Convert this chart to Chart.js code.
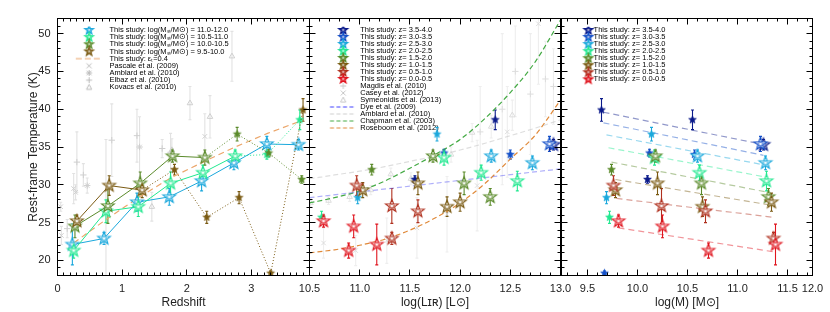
<!DOCTYPE html>
<html><head><meta charset="utf-8">
<script src="https://cdn.jsdelivr.net/npm/chart.js@4.4.1/dist/chart.umd.min.js"></script>
<style>
html,body{margin:0;padding:0;background:#fff;overflow:hidden}
#wrap{position:relative;width:830px;height:312px;background:#fff}
#wrap canvas{position:absolute;left:0;top:0}
</style></head>
<body><div id="wrap">
<canvas id="cl" width="830" height="312"></canvas>
<canvas id="cm" width="830" height="312"></canvas>
<canvas id="cr" width="830" height="312"></canvas>
</div>
<script>
const FONT = "'Liberation Sans', Arial, Helvetica, sans-serif";
Chart.defaults.font.family = FONT;
Chart.defaults.color = '#222';

// ================= DATA =================
const zBinLabels = ['0.0-0.5','0.5-1.0','1.0-1.5','1.5-2.0','2.0-2.5','2.5-3.0','3.0-3.5','3.5-4.0'];
const massBinLabels = ['11.0-12.0','10.5-11.0','10.0-10.5','9.5-10.0'];

// Left panel: T vs redshift, one series per stellar-mass bin (z bins low -> high)
const zMass1 = [0.23,0.72,1.23,1.73,2.23,2.73,3.24,3.73];
const tMass1 = [22.1,22.9,27.7,28.4,30.5,32.9,35.4,35.3];
const eMass1 = [2.7,0.8,1.2,1.1,1.3,0.9,1.0,0.7];
const fMass1 = [0,0,0,0,0,0,0,0];

const zMass2 = [0.25,0.75,1.25,1.75,2.25,2.75,3.24,3.75];
const tMass2 = [21.3,26.5,27.1,30.2,31.6,33.8,34.0,38.6];
const eMass2 = [1.0,1.5,1.3,1.5,1.0,0.8,0.6,1.3];
const fMass2 = [0,0,0,0,0,0,1,1];

const zMass3 = [0.27,0.78,1.28,1.78,2.28,2.78,3.27,3.78];
const tMass3 = [24.5,27.2,30.2,33.8,33.6,36.7,34.2,30.7];
const eMass3 = [1.5,2.3,1.5,0.8,1.0,0.9,0.5,0.5];
const fMass3 = [0,0,0,0,0,1,1,1];

const zMass4 = [0.30,0.80,1.31,1.81,2.31,2.81,3.30,3.80];
const tMass4 = [25.2,29.9,29.3,32.0,25.7,28.3,18.3,39.9];
const eMass4 = [0.8,1.3,1.0,0.7,0.8,0.8,0.3,1.5];
const fMass4 = [0,0,0,1,1,1,1,1];

// epsilon = 0.4 model curve (left)
const epsZ = [0.25,0.75,1.25,1.75,2.25,2.75,3.25,3.75];
const epsT = [22.3,25.4,28.3,30.9,33.0,35.0,36.8,38.4];

// literature (left)
const pascaleZ = [0.05,0.06,0.25,0.28,2.28];
const pascaleT = [27.1,23.3,29.5,29.0,36.4];
const pascaleE = [0.6,1.2,2.0,1.0,3.0];
const amblardZ = [0.46,1.27];
const amblardT = [29.9,35.0];
const amblardE = [1.0,4.0];
const elbazZ = [0.15,0.30,0.40,0.75,0.84,1.23,1.62,1.75];
const elbazT = [24.2,33.0,31.3,27.0,35.9,36.5,34.8,34.3];
const elbazE = [1.2,4.0,1.5,9.0,4.8,3.5,1.2,2.5];
const kovacsZ = [1.46,1.77,2.05,2.36,2.70];
const kovacsT = [27.1,34.6,40.8,39.0,47.0];
const kovacsE = [1.9,1.5,2.2,2.8,3.3];

// Middle panel: log(L_IR) of each point, per z bin (mass order 11-12, 10.5-11, 10-10.5, 9.5-10)
const lirZ0 = [11.17,10.89,10.94,10.64];
const lirZ1 = [11.32,11.58,11.32,10.97];
const lirZ2 = [12.00,11.87,11.58,11.03];
const lirZ3 = [12.30,12.04,11.73,11.12];
const lirZ4 = [12.57,12.21,11.84,10.62];
const lirZ5 = [12.72,12.31,11.77,10.98];
const lirZ6 = [12.89,12.50,11.84,null];
const lirZ7 = [12.93,12.35,11.55,null];

// Right panel: log(M) of each point, per z bin
const mstZ0 = [11.38,10.71,10.25,9.81];
const mstZ1 = [11.36,10.68,10.24,9.76];
const mstZ2 = [11.34,10.65,10.20,9.78];
const mstZ3 = [11.31,10.64,10.18,9.74];
const mstZ4 = [11.29,10.62,10.17,9.72];
const mstZ5 = [11.28,10.60,10.14,9.69];
const mstZ6 = [11.23,10.57,10.12,9.67];
const mstZ7 = [11.26,10.55,10.10,9.64];

// Right panel linear fits per z bin: [logM start, T start, logM end, T end]
const fitZ0 = [9.81,24.3,11.38,21.1];
const fitZ1 = [9.79,28.2,11.36,25.7];
const fitZ2 = [9.78,30.7,11.34,27.3];
const fitZ3 = [9.74,33.0,11.31,29.0];
const fitZ4 = [9.71,34.9,11.29,31.0];
const fitZ5 = [9.69,36.6,11.28,32.6];
const fitZ6 = [9.66,38.2,11.26,33.9];
const fitZ7 = [9.66,39.6,11.23,35.4];

// Middle panel literature
const lirGrid = [10.5,10.75,11.0,11.25,11.5,11.75,12.0,12.25,12.5,12.75,13.0];
const chapmanT = [27.6,28.3,29.2,30.5,32.2,34.0,36.0,38.8,42.2,46.3,51.8];
const roseboomT = [21.0,21.4,22.0,22.8,24.0,25.6,27.6,30.2,33.4,36.6,41.2];
const amblardLT = [30.8,31.3,31.8,32.4,33.1,33.8,34.6,35.5,36.5,37.5,38.6];
const dyeL = [10.5,13.0];
const dyeT = [28.3,32.1];
const caseyL = [10.64,10.96,11.27,11.57,11.87,12.17,12.47,12.78];
const caseyT = [22.3,21.3,22.6,24.3,26.1,29.9,37.0,51.3];
const caseyE = [2,2,3,4,5,6,6,8];
const symL = [10.51,10.69,10.90,11.11,11.31,11.51,11.91,12.12,12.31,12.52];
const symT = [27.6,27.9,28.4,29.3,31.4,30.8,34.0,36.9,37.7,39.2];
const symE = [0.5,0.5,0.6,0.6,0.8,0.8,1.0,1.2,1.5,2.0];
const magdisL = [12.20,12.42,12.55,12.70,12.85,12.93];
const magdisT = [37,40,45,42,44,43];
const magdisE = [6,10,6,8,5,5];

// tick labels
const xTicksLeft = [0,1,2,3];
const xTicksMid = [10.5,11.0,11.5,12.0,12.5,13.0];
const xTicksRight = [9.5,10.0,10.5,11.0,11.5];
const yTicks = [20,25,30,35,40,45,50];

// ================= STYLE HELPERS =================
const zColors = ['#E0141E','#B0301E','#7A5A12','#5A8A2A','#22E890','#1AA8DC','#1450C8','#0A1A8A'];
const massColors = ['#1AA8DC','#22E890','#5A8A2A','#7A5A12'];
const GREY = '#CFCFCF', GREYBAR = '#E2E2E2';
const OPEN_R = 6.6, FILL_R = 4.1;

function starPath(g, R, r) {
  g.beginPath();
  for (let k = 0; k < 10; k++) {
    const a = -Math.PI/2 + k*Math.PI/5, rr = (k % 2) ? r : R;
    g.lineTo(rr*Math.cos(a), rr*Math.sin(a));
  }
  g.closePath();
}
function drawStar(g, R, color, filled, lw) {
  if (filled) {
    starPath(g, R, R*0.45); g.fillStyle = color; g.fill();
    g.strokeStyle = color; g.lineWidth = 0.6; g.stroke();
  } else {
    starPath(g, R, R*0.42); g.fillStyle = '#fff'; g.fill();
    g.strokeStyle = color; g.lineWidth = lw || 1.2; g.stroke();
    starPath(g, R*0.45, R*0.2); g.lineWidth = 0.7; g.stroke();
  }
}
const starCache = {};
function starImg(color, filled, R) {
  const key = color + filled + R;
  if (starCache[key]) return starCache[key];
  const s = Math.ceil(2*R + 4);
  const c = document.createElement('canvas'); c.width = s; c.height = s;
  const g = c.getContext('2d'); g.translate(s/2, s/2);
  drawStar(g, R, color, filled);
  return (starCache[key] = c);
}
function drawMark(g, kind, r, color) {
  g.strokeStyle = color; g.lineWidth = 1; g.beginPath();
  if (kind === 'x' || kind === '*') { g.moveTo(-r,-r); g.lineTo(r,r); g.moveTo(-r,r); g.lineTo(r,-r); }
  if (kind === '+' || kind === '*') { const q = kind === '*' ? r*1.3 : r*1.2; g.moveTo(-q,0); g.lineTo(q,0); g.moveTo(0,-q); g.lineTo(0,q); }
  if (kind === 'tri') { g.moveTo(0,-r*1.1); g.lineTo(r,r*0.8); g.lineTo(-r,r*0.8); g.closePath(); }
  g.stroke();
}
function icon(dx, fn) {
  const c = document.createElement('canvas'); c.width = 80; c.height = 12;
  const g = c.getContext('2d'); g.translate(40 + dx, 6); fn(g); return c;
}
function dashIcon(x0, x1, color, dash, lw) {
  return icon(0, g => { g.strokeStyle = color; g.lineWidth = lw || 1; g.setLineDash(dash); g.beginPath(); g.moveTo(x0,0); g.lineTo(x1,0); g.stroke(); });
}
function legendItem(text, img) {
  return { text, pointStyle: img, fillStyle: 'rgba(0,0,0,0)', strokeStyle: 'rgba(0,0,0,0)', lineWidth: 0, hidden: false, fontColor: '#000' };
}
function pts(xs, ys) { return xs.map((x, i) => ({x, y: ys[i]})); }
function greyDs(xs, ys, es, style) {
  return { data: pts(xs, ys), errors: es, errColor: GREYBAR, pointStyle: style, pointRadius: 3.2,
    borderColor: GREY, backgroundColor: 'rgba(0,0,0,0)', borderWidth: 1, showLine: false, order: 20 };
}

// ================= PLUGINS =================
const errBars = {
  id: 'errBars',
  beforeDatasetsDraw(chart) {
    const {ctx, chartArea: a} = chart, xs = chart.scales.x, ys = chart.scales.y;
    ctx.save();
    ctx.beginPath(); ctx.rect(a.left, a.top, a.right - a.left, a.bottom - a.top); ctx.clip();
    const list = chart.data.datasets.slice().sort((p, q) => (q.order||0) - (p.order||0));
    list.forEach(ds => {
      if (!ds.errors) return;
      ctx.strokeStyle = ds.errColor; ctx.lineWidth = ds.errWidth || 1.1;
      ds.data.forEach((p, i) => {
        const e = ds.errors[i]; if (!e) return;
        const px = xs.getPixelForValue(p.x);
        const y1 = ys.getPixelForValue(p.y - e), y2 = ys.getPixelForValue(p.y + e);
        ctx.beginPath();
        ctx.moveTo(px, y1); ctx.lineTo(px, y2);
        ctx.moveTo(px - 1.5, y1); ctx.lineTo(px + 1.5, y1);
        ctx.moveTo(px - 1.5, y2); ctx.lineTo(px + 1.5, y2);
        ctx.stroke();
      });
    });
    ctx.restore();
  }
};
const frame = {
  id: 'frame',
  afterDatasetsDraw(chart, args, o) {
    if (!o || !o.xMinor) return;
    const {ctx, chartArea: a} = chart, xs = chart.scales.x, ys = chart.scales.y;
    const snap = p => Math.round(p - 0.5) + 0.5;
    ctx.save(); ctx.strokeStyle = '#000'; ctx.lineWidth = 1;
    ctx.strokeRect(a.left, a.top, a.right - a.left, a.bottom - a.top);
    ctx.beginPath();
    const k0 = Math.ceil(xs.min / o.xMinor - 1e-6), k1 = Math.floor(xs.max / o.xMinor + 1e-6);
    const rat = Math.round(o.xMajor / o.xMinor);
    for (let k = k0; k <= k1; k++) {
      const len = (k % rat === 0) ? 6 : 3;
      const px = snap(xs.getPixelForValue(k * o.xMinor));
      ctx.moveTo(px, a.bottom); ctx.lineTo(px, a.bottom - len);
      ctx.moveTo(px, a.top); ctx.lineTo(px, a.top + len);
    }
    for (let v = Math.ceil(ys.min); v <= ys.max; v++) {
      const len = (v % 5 === 0) ? 6 : 3;
      const py = snap(ys.getPixelForValue(v));
      ctx.moveTo(a.left, py); ctx.lineTo(a.left + len, py);
      ctx.moveTo(a.right, py); ctx.lineTo(a.right - len, py);
    }
    ctx.stroke(); ctx.restore();
  }
};
const legendPos = {
  id: 'legendPos',
  afterLayout(chart, args, o) {
    const L = chart.legend; if (!L || !o || o.x == null) return;
    const w = L.width;
    L.left = o.x; L.top = o.y; L.right = o.x + w; L.bottom = chart.chartArea.bottom;
  }
};
Chart.register(errBars, frame, legendPos);

function xScale(min, max, ticks, title, fmt) {
  return {
    type: 'linear', min, max,
    afterBuildTicks: s => { s.ticks = ticks.map(v => ({value: v})); },
    afterFit: s => { s.height = 36.5; },
    grid: {display: false, drawTicks: false}, border: {display: false},
    ticks: {font: {size: 11}, color: '#222', padding: 6.5, maxRotation: 0, autoSkip: false, callback: fmt},
    title: {display: true, text: title, font: {size: 12}, color: '#222', padding: {top: 0, bottom: 2}}
  };
}
function yScale(show) {
  const y = { type: 'linear', min: 18, max: 52, display: show,
    afterBuildTicks: s => { s.ticks = yTicks.map(v => ({value: v})); },
    grid: {display: false, drawTicks: false}, border: {display: false},
    ticks: {font: {size: 11}, color: '#222', padding: 7}
  };
  if (show) {
    y.afterFit = s => { s.width = 57.5; };
    y.title = {display: true, text: 'Rest-frame Temperature (K)', font: {size: 12}, color: '#222', padding: {top: 26, bottom: 0}};
  }
  return y;
}
function baseOptions(padL, padR, xs, ys, legendItems, lg, fr) {
  return {
    responsive: false, animation: false, events: [],
    layout: {padding: {left: padL, right: padR, top: 18.5, bottom: 0}},
    scales: {x: xs, y: ys},
    plugins: {
      tooltip: {enabled: false},
      legend: {display: true, position: 'chartArea', align: 'start',
        labels: {usePointStyle: true, pointStyleWidth: lg.bw, boxHeight: 7, padding: lg.pad,
          font: {size: 7.5}, color: '#000', generateLabels: () => legendItems}},
      legendPos: {x: lg.x, y: lg.y},
      frame: fr
    }
  };
}

// ================= LEFT PANEL =================
const massZ = [zMass1, zMass2, zMass3, zMass4];
const massT = [tMass1, tMass2, tMass3, tMass4];
const massE = [eMass1, eMass2, eMass3, eMass4];
const massF = [fMass1, fMass2, fMass3, fMass4];

const leftDs = [];
massZ.forEach((zs, i) => {
  const col = massColors[i], f = massF[i];
  leftDs.push({
    data: pts(zs, massT[i]), errors: massE[i], errColor: col,
    showLine: true, borderColor: col, borderWidth: 1,
    segment: {borderDash: c => f[c.p1DataIndex] ? [1, 2] : undefined},
    pointStyle: f.map(v => v ? starImg(col, true, FILL_R) : starImg(col, false, OPEN_R)),
    pointRadius: 4, order: 1 + (3 - i) * 0.1
  });
});
leftDs.push({data: pts(epsZ, epsT), showLine: true, borderColor: '#EBA66A', borderWidth: 1.2,
  borderDash: [6, 4], pointRadius: 0, order: 10});
leftDs.push(greyDs(pascaleZ, pascaleT, pascaleE, 'crossRot'));
leftDs.push(greyDs(amblardZ, amblardT, amblardE, 'star'));
leftDs.push(greyDs(elbazZ, elbazT, elbazE, 'cross'));
leftDs.push(greyDs(kovacsZ, kovacsT, kovacsE, 'triangle'));

// legend rows: font 7.5 with negative padding to keep ~7 px row spacing
const leftLegend = [
  ...massBinLabels.map((m, i) => legendItem('This study: log(M\u209B\u209C/M\u2299) = ' + m, icon(1.3, g => drawStar(g, 4.5, massColors[i], false, 1.3)))),
  legendItem('This study: \u03B5\u209C=0.4', dashIcon(-12, 15, '#EBA66A', [6, 3], 1.2)),
  legendItem('Pascale et al. (2009)', icon(1.3, g => drawMark(g, 'x', 2.5, '#BBB'))),
  legendItem('Amblard et al. (2010)', icon(1.3, g => drawMark(g, '*', 2.3, '#BBB'))),
  legendItem('Elbaz et al. (2010)', icon(1.3, g => drawMark(g, '+', 2.5, '#BBB'))),
  legendItem('Kovacs et al. (2010)', icon(1.3, g => drawMark(g, 'tri', 2.6, '#BBB')))
];

new Chart(document.getElementById('cl'), {
  type: 'scatter',
  data: {datasets: leftDs},
  options: baseOptions(0, 520.5, xScale(0, 3.9, xTicksLeft, 'Redshift', v => String(v)), yScale(true),
    leftLegend, {bw: 36, pad: -0.34, x: 70.1, y: 26.6}, {xMajor: 1, xMinor: 0.1})
});

// ================= MIDDLE & RIGHT PANELS =================
const lirByZ = [lirZ0, lirZ1, lirZ2, lirZ3, lirZ4, lirZ5, lirZ6, lirZ7];
const mstByZ = [mstZ0, mstZ1, mstZ2, mstZ3, mstZ4, mstZ5, mstZ6, mstZ7];
const fitByZ = [fitZ0, fitZ1, fitZ2, fitZ3, fitZ4, fitZ5, fitZ6, fitZ7];

function starDatasets(xByZ) {
  const out = [];
  xByZ.forEach((xs, j) => {
    const col = zColors[j], data = [], errs = [], styles = [];
    xs.forEach((x, i) => {
      if (x == null) return;
      data.push({x, y: massT[i][j]}); errs.push(massE[i][j]);
      styles.push(massF[i][j] ? starImg(col, true, FILL_R) : starImg(col, false, OPEN_R));
    });
    out.push({data, errors: errs, errColor: col, showLine: false, pointStyle: styles, pointRadius: 4, order: 1 + j * 0.01});
  });
  return out;
}

const midDs = starDatasets(lirByZ);
midDs.push({data: pts(dyeL, dyeT), showLine: true, borderColor: 'rgba(110,110,245,0.55)', borderWidth: 1.2, borderDash: [5, 3], pointRadius: 0, order: 10});
midDs.push({data: pts(lirGrid, amblardLT), showLine: true, borderColor: 'rgba(200,200,200,0.6)', borderWidth: 1.2, borderDash: [5, 3], pointRadius: 0, cubicInterpolationMode: 'monotone', order: 10});
midDs.push({data: pts(lirGrid, chapmanT), showLine: true, borderColor: '#44AA44', borderWidth: 1.2, borderDash: [5, 3], pointRadius: 0, cubicInterpolationMode: 'monotone', order: 10});
midDs.push({data: pts(lirGrid, roseboomT), showLine: true, borderColor: '#E08A3A', borderWidth: 1.2, borderDash: [5, 3], pointRadius: 0, cubicInterpolationMode: 'monotone', order: 10});
midDs.push(greyDs(magdisL, magdisT, magdisE, 'cross'));
midDs.push(greyDs(caseyL, caseyT, caseyE, 'crossRot'));
midDs.push(greyDs(symL, symT, symE, 'triangle'));
midDs.slice(-3).forEach(d => { d.borderColor = '#DDDDDD'; d.errColor = '#EEEEEE'; });

const zStarLegend = (dx) => zBinLabels.map((z, j) => j).reverse().map(j =>
  legendItem('This study: z= ' + zBinLabels[j], icon(dx, g => drawStar(g, 4.5, zColors[j], false, 1.4))));

const midLegend = [
  ...zStarLegend(2),
  legendItem('Magdis et al. (2010)', icon(2, g => drawMark(g, '+', 2.5, '#C8C8C8'))),
  legendItem('Casey et al. (2012)', icon(2, g => drawMark(g, 'x', 2.5, '#C8C8C8'))),
  legendItem('Symeonidis et al. (2013)', icon(2, g => drawMark(g, 'tri', 2.6, '#C8C8C8'))),
  legendItem('Dye et al. (2009)', dashIcon(-11.25, 13.75, '#4040FF', [4, 2.5], 1.2)),
  legendItem('Amblard et al. (2010)', dashIcon(-11.25, 13.75, '#CFCFCF', [4, 2.5], 1.2)),
  legendItem('Chapman et al. (2003)', dashIcon(-11.25, 13.75, '#44AA44', [4, 2.5], 1.2)),
  legendItem('Roseboom et al. (2012)', dashIcon(-11.25, 13.75, '#E08A3A', [4, 2.5], 1.2))
];

new Chart(document.getElementById('cm'), {
  type: 'scatter',
  data: {datasets: midDs},
  options: baseOptions(309.5, 269.5, xScale(10.5, 13.0, xTicksMid, 'log(L\u026A\u0280) [L\u2299]', v => v.toFixed(1)), yScale(false),
    midLegend, {bw: 30.5, pad: -0.5, x: 326.5, y: 26.75}, {xMajor: 0.5, xMinor: 0.1})
});

const rightDs = starDatasets(mstByZ);
fitByZ.forEach((f, j) => {
  const c = zColors[j];
  const rgb = [parseInt(c.slice(1,3),16), parseInt(c.slice(3,5),16), parseInt(c.slice(5,7),16)];
  rightDs.push({data: [{x: f[0], y: f[1]}, {x: f[2], y: f[3]}], showLine: true,
    borderColor: 'rgba(' + rgb.join(',') + ',0.45)', borderWidth: 1.2, borderDash: [6, 4], pointRadius: 0, order: 10});
});

const rightX = xScale(9.24, 11.75, xTicksRight, 'log(M) [M\u2299]', v => v.toFixed(1));
rightX.afterBuildTicks = s => { s.ticks = xTicksRight.concat([s.max]).map(v => ({value: v})); };
rightX.ticks.callback = v => (v > 11.6 ? '12.0' : v.toFixed(1));

new Chart(document.getElementById('cr'), {
  type: 'scatter',
  data: {datasets: rightDs},
  options: baseOptions(561.5, 17.5, rightX, yScale(false),
    zStarLegend(4.9), {bw: 12.8, pad: -0.45, x: 577.5, y: 26.7}, {xMajor: 0.5, xMinor: 0.1})
});
</script></body></html>
